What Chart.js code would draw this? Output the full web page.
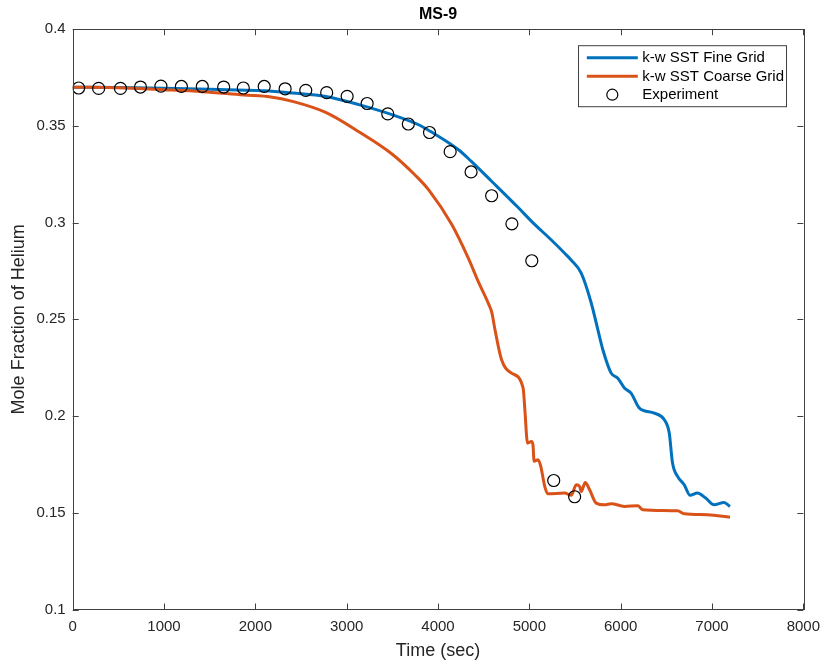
<!DOCTYPE html>
<html lang="en">
<head>
  <meta charset="UTF-8">
  <title>MS-9</title>
  <script src="https://cdn.jsdelivr.net/npm/chart.js"></script>
  <style>
    html, body { margin: 0; padding: 0; background: #fff; }
    .chart-container { width: 828px; height: 667px; }
  </style>
</head>
<body>
  <div class="chart-container">
    <canvas id="chartCanvas" width="828" height="667"></canvas>
  </div>

  <script>
    // k-w SST fine grid
    const fineTime = [0, 500, 1000, 1500, 1800, 2100, 2406, 2770, 3133, 3496, 3787, 3915, 4224, 4362, 4587, 4878, 5030, 5241, 5387, 5460, 5568, 5677, 5750, 5805, 5896, 5969, 6041, 6114, 6205, 6369, 6478, 6532, 6568, 6623, 6696, 6761, 6841, 6931, 7023, 7132, 7197];
    const fineFrac = [0.3700, 0.3698, 0.3695, 0.3690, 0.3686, 0.3682, 0.3670, 0.3652, 0.3610, 0.3558, 0.3506, 0.3472, 0.3377, 0.3318, 0.3214, 0.3078, 0.3004, 0.2910, 0.2842, 0.2806, 0.2739, 0.2586, 0.2447, 0.2343, 0.2222, 0.2196, 0.2145, 0.2119, 0.2041, 0.2015, 0.1981, 0.1912, 0.1757, 0.1688, 0.1645, 0.1590, 0.1602, 0.1576, 0.1541, 0.1553, 0.1533];

    // k-w SST coarse grid
    const coarseTime = [0, 500, 1000, 1420, 1870, 2170, 2406, 2770, 3133, 3496, 3751, 3900, 4151, 4333, 4441, 4550, 4590, 4624, 4696, 4805, 4932, 4951, 4980, 5023, 5040, 5052, 5096, 5125, 5169, 5205, 5387, 5459, 5514, 5551, 5568, 5612, 5660, 5732, 5823, 5896, 6041, 6187, 6241, 6623, 6696, 6950, 7197];
    const coarseFrac = [0.3700, 0.3697, 0.3687, 0.3677, 0.3660, 0.3650, 0.3627, 0.3570, 0.3470, 0.3355, 0.3245, 0.3168, 0.2990, 0.2815, 0.2695, 0.2584, 0.2533, 0.2446, 0.2291, 0.2222, 0.2145, 0.2033, 0.1860, 0.1869, 0.1850, 0.1766, 0.1774, 0.1740, 0.1636, 0.1598, 0.1602, 0.1590, 0.1645, 0.1636, 0.1610, 0.1657, 0.1619, 0.1550, 0.1541, 0.1547, 0.1533, 0.1536, 0.1516, 0.1510, 0.1495, 0.1490, 0.1477];

    // experiment
    const expTime = [65, 284, 523, 742, 966, 1190, 1419, 1653, 1868, 2097, 2326, 2552, 2781, 3005, 3224, 3450, 3675, 3907, 4133, 4362, 4587, 4809, 5027, 5267, 5496];
    const expFrac = [0.3696, 0.3694, 0.3694, 0.3701, 0.3706, 0.3704, 0.3704, 0.3701, 0.3696, 0.3704, 0.3692, 0.3684, 0.3672, 0.3653, 0.3616, 0.3562, 0.3510, 0.3466, 0.3367, 0.3262, 0.3139, 0.2994, 0.2803, 0.1667, 0.1583];

    const xTicks = [0, 1000, 2000, 3000, 4000, 5000, 6000, 7000, 8000];
    const yTicks = [0.1, 0.15, 0.2, 0.25, 0.3, 0.35, 0.4];

    const blue = "#0072BD";
    const orange = "#D95319";
    const axisColor = "#404040";
    const textColor = "#262626";
    const fontFamily = "Arial, 'Liberation Sans', Helvetica, sans-serif";

    function toPoints(xs, ys) {
      return xs.map((x, i) => ({ x: x, y: ys[i] }));
    }

    // kotak sumbu + tick ke dalam (gaya MATLAB)
    const boxTicks = {
      id: "boxTicks",
      afterDatasetsDraw(chart) {
        const { ctx, chartArea: a, scales } = chart;
        const len = 6;
        ctx.save();
        ctx.strokeStyle = axisColor;
        ctx.lineWidth = 1;
        ctx.beginPath();
        xTicks.forEach(v => {
          const px = Math.round(scales.x.getPixelForValue(v)) + 0.5;
          ctx.moveTo(px, a.bottom); ctx.lineTo(px, a.bottom - len);
          ctx.moveTo(px, a.top); ctx.lineTo(px, a.top + len);
        });
        yTicks.forEach(v => {
          const py = Math.round(scales.y.getPixelForValue(v)) + 0.5;
          ctx.moveTo(a.left, py); ctx.lineTo(a.left + len, py);
          ctx.moveTo(a.right, py); ctx.lineTo(a.right - len, py);
        });
        ctx.stroke();
        ctx.strokeRect(Math.round(a.left) + 0.5, Math.round(a.top) + 0.5,
          Math.round(a.right - a.left), Math.round(a.bottom - a.top));
        ctx.restore();
      }
    };

    // legenda di kanan atas
    const boxLegend = {
      id: "boxLegend",
      afterDraw(chart) {
        const { ctx, chartArea: a } = chart;
        const x0 = a.right - 225.5, y0 = a.top + 16, w = 208, h = 61;
        const items = chart.data.datasets;
        ctx.save();
        ctx.fillStyle = "#fff";
        ctx.fillRect(x0, y0, w, h);
        ctx.strokeStyle = axisColor;
        ctx.lineWidth = 1;
        ctx.strokeRect(Math.round(x0) + 0.5, y0 + 0.5, w, h);
        ctx.font = "15px " + fontFamily;
        ctx.textBaseline = "middle";
        ctx.textAlign = "left";
        items.forEach((ds, i) => {
          const cy = y0 + 12.5 + i * 18.5;
          if (ds.showLine) {
            ctx.strokeStyle = ds.borderColor;
            ctx.lineWidth = 3;
            ctx.beginPath();
            ctx.moveTo(x0 + 9, cy); ctx.lineTo(x0 + 60, cy);
            ctx.stroke();
          } else {
            ctx.strokeStyle = "#000";
            ctx.lineWidth = 1.2;
            ctx.beginPath();
            ctx.arc(x0 + 34.5, cy, 5.5, 0, Math.PI * 2);
            ctx.stroke();
          }
          ctx.fillStyle = "#000";
          ctx.fillText(ds.label, x0 + 64.5, cy + 0.5);
        });
        ctx.restore();
      }
    };

    const ctx = document.getElementById("chartCanvas").getContext("2d");
    const chartInstance = new Chart(ctx, {
      type: "scatter",
      data: {
        datasets: [
          {
            label: "k-w SST Fine Grid",
            data: toPoints(fineTime, fineFrac),
            showLine: true,
            borderColor: blue,
            borderWidth: 3,
            pointRadius: 0,
            cubicInterpolationMode: "monotone",
            order: 2
          },
          {
            label: "k-w SST Coarse Grid",
            data: toPoints(coarseTime, coarseFrac),
            showLine: true,
            borderColor: orange,
            borderWidth: 3,
            pointRadius: 0,
            cubicInterpolationMode: "monotone",
            order: 1
          },
          {
            label: "Experiment",
            data: toPoints(expTime, expFrac),
            showLine: false,
            pointStyle: "circle",
            pointRadius: 6,
            pointBorderWidth: 1.2,
            pointBorderColor: "#000",
            pointBackgroundColor: "rgba(0,0,0,0)",
            order: 0
          }
        ]
      },
      options: {
        responsive: false,
        maintainAspectRatio: false,
        animation: false,
        devicePixelRatio: 1,
        layout: { padding: { left: 0, right: 22, top: 0, bottom: 0 } },
        plugins: {
          legend: { display: false },
          tooltip: { enabled: false },
          title: {
            display: true,
            fullSize: false,
            text: "MS-9",
            color: "#000",
            font: { family: fontFamily, size: 16, weight: "bold" },
            padding: { top: 5, bottom: 5 }
          }
        },
        scales: {
          x: {
            type: "linear",
            min: 0,
            max: 8000,
            afterBuildTicks: scale => { scale.ticks = xTicks.map(v => ({ value: v })); },
            afterFit: scale => { scale.height = 57.5; },
            grid: { display: false, drawTicks: false },
            border: { display: false },
            ticks: {
              color: textColor,
              padding: 8,
              maxRotation: 0,
              font: { family: fontFamily, size: 15 },
              callback: v => String(v)
            },
            title: {
              display: true,
              text: "Time (sec)",
              color: textColor,
              font: { family: fontFamily, size: 18 },
              padding: { top: 0, bottom: 5 }
            }
          },
          y: {
            type: "linear",
            min: 0.1,
            max: 0.4,
            afterBuildTicks: scale => { scale.ticks = yTicks.map(v => ({ value: v })); },
            afterFit: scale => { scale.width = 72.7; },
            grid: { display: false, drawTicks: false },
            border: { display: false },
            ticks: {
              color: textColor,
              padding: 7,
              font: { family: fontFamily, size: 15 },
              callback: v => String(+v.toFixed(2))
            },
            title: {
              display: true,
              text: "Mole Fraction of Helium",
              color: textColor,
              font: { family: fontFamily, size: 18 },
              padding: { top: 8, bottom: 0 }
            }
          }
        }
      },
      plugins: [boxTicks, boxLegend]
    });
  </script>
</body>
</html>
